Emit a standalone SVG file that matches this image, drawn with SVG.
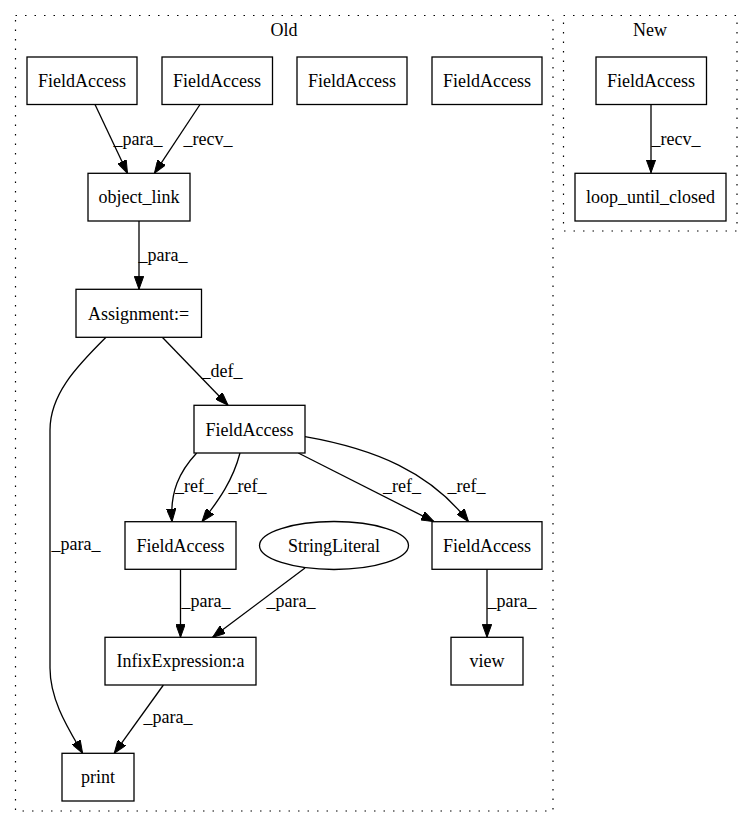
<svg xmlns="http://www.w3.org/2000/svg" width="753" height="828" viewBox="0 0 753 828">
<style>
text{font-family:"Liberation Serif","Times New Roman",serif;font-size:18px;fill:#000}
.n{fill:#fff;stroke:#000;stroke-width:1.3}
.c{fill:none;stroke:#000;stroke-width:1.2;stroke-dasharray:1.5,8}
.e{fill:none;stroke:#000;stroke-width:1.3;marker-end:url(#ah)}
.m{text-anchor:middle}
</style>
<defs>
<marker id="ah" viewBox="0 0 13 9.4" refX="13" refY="4.7" markerWidth="13" markerHeight="9.4" markerUnits="userSpaceOnUse" orient="auto">
<path d="M0,0 L13,4.7 L0,9.4 z" fill="#000" stroke="#000" stroke-width="1"/>
</marker>
</defs>
<rect width="753" height="828" fill="#fff"/>
<g id="cluster_old">
<rect class="c" x="15.5" y="15.5" width="537.5" height="795.5"/>
<text class="m" x="284" y="36">Old</text>
</g>
<g id="cluster_new">
<rect class="c" x="563.5" y="15.5" width="173.5" height="215.5"/>
<text class="m" x="650" y="36">New</text>
</g>
<g id="edges">
<path class="e" d="M95,104.5 L127.5,173.3"/>
<text class="m" x="138" y="145">_para_</text>
<path class="e" d="M200,104.5 L154.4,173.3"/>
<text class="m" x="208" y="145">_recv_</text>
<path class="e" d="M139,221 L139,289.3"/>
<text class="m" x="163" y="261">_para_</text>
<path class="e" d="M162.3,337.3 L228,405.3"/>
<text class="m" x="222" y="377">_def_</text>
<path class="e" d="M106,337.3 C75,368 50,395 50,430 L50,668 C50,700 68,728 82.6,753.3"/>
<text class="m" x="76" y="550">_para_</text>
<path class="e" d="M196.7,453 C179,472 170,492 172,521.7"/>
<text class="m" x="194" y="492">_ref_</text>
<path class="e" d="M240,453 C233,480 219,500 202,521.7"/>
<text class="m" x="247.5" y="492">_ref_</text>
<path class="e" d="M298.3,453 L434,521.7"/>
<text class="m" x="402" y="492">_ref_</text>
<path class="e" d="M305,436.7 C375,449 430,472 468.5,521.7"/>
<text class="m" x="466.5" y="492">_ref_</text>
<path class="e" d="M180.5,569.3 L180.5,637.3"/>
<text class="m" x="206" y="607">_para_</text>
<path class="e" d="M305,568 L212.6,637.3"/>
<text class="m" x="291" y="607">_para_</text>
<path class="e" d="M487,569.3 L487,637.3"/>
<text class="m" x="512" y="607">_para_</text>
<path class="e" d="M163.4,685 L114.2,753.3"/>
<text class="m" x="168" y="723">_para_</text>
<path class="e" d="M651,104.5 L651,172.7"/>
<text class="m" x="676" y="145">_recv_</text>
</g>
<g id="fa1"><rect class="n" x="27" y="57" width="110" height="47.5"/><text class="m" x="82" y="86.5">FieldAccess</text></g>
<g id="fa2"><rect class="n" x="162" y="57" width="110.5" height="47.5"/><text class="m" x="217" y="86.5">FieldAccess</text></g>
<g id="fa3"><rect class="n" x="297" y="57" width="110" height="47.5"/><text class="m" x="352" y="86.5">FieldAccess</text></g>
<g id="fa4"><rect class="n" x="432" y="57" width="110" height="47.5"/><text class="m" x="487" y="86.5">FieldAccess</text></g>
<g id="object_link"><rect class="n" x="88" y="173.3" width="102" height="47.7"/><text class="m" x="139" y="203">object_link</text></g>
<g id="assignment"><rect class="n" x="76" y="289.3" width="125.5" height="48"/><text class="m" x="138.7" y="319.5">Assignment:=</text></g>
<g id="fa_mid"><rect class="n" x="194" y="405.3" width="111" height="47.7"/><text class="m" x="249.5" y="435.5">FieldAccess</text></g>
<g id="fa_left"><rect class="n" x="125" y="521.7" width="111" height="47.6"/><text class="m" x="180.5" y="551.5">FieldAccess</text></g>
<g id="string_literal"><ellipse class="n" cx="334" cy="545.5" rx="74.5" ry="24"/><text class="m" x="334" y="551.5">StringLiteral</text></g>
<g id="fa_right"><rect class="n" x="432" y="521.7" width="110" height="47.6"/><text class="m" x="487" y="551.5">FieldAccess</text></g>
<g id="infix"><rect class="n" x="105" y="637.3" width="151" height="47.7"/><text class="m" x="180.5" y="667">InfixExpression:a</text></g>
<g id="view"><rect class="n" x="451" y="637.3" width="72" height="47.7"/><text class="m" x="487" y="667">view</text></g>
<g id="print"><rect class="n" x="62" y="753.3" width="72" height="47.7"/><text class="m" x="98" y="783">print</text></g>
<g id="fa_new"><rect class="n" x="596" y="57" width="110.5" height="47.5"/><text class="m" x="651" y="86.5">FieldAccess</text></g>
<g id="loop"><rect class="n" x="575" y="173.3" width="151" height="47.7"/><text class="m" x="650.5" y="203">loop_until_closed</text></g>
</svg>
